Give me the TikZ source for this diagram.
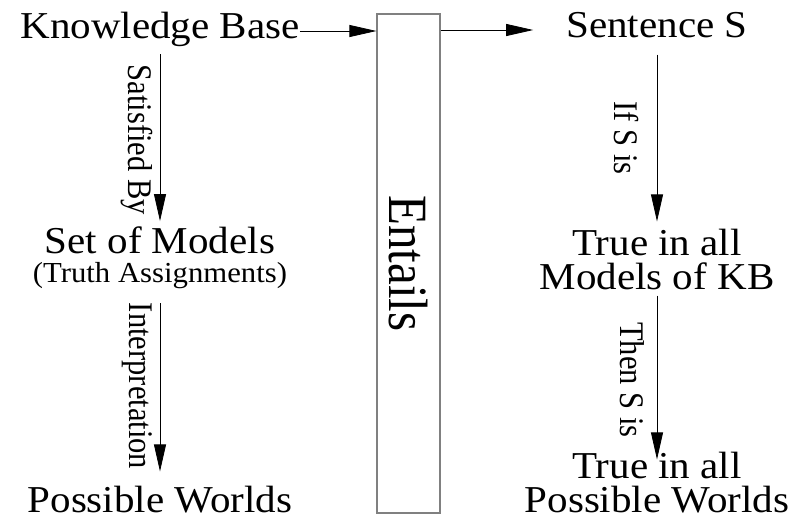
\documentclass[tikz,border=0pt]{standalone}
\usepackage{fontspec}
\setmainfont{Liberation Serif}
\newfontfamily\widefont[FakeStretch=1.08]{Liberation Serif}
\newfontfamily\smallwidefont[FakeStretch=1.06]{Liberation Serif}
\newfontfamily\narrowfont[FakeStretch=0.885]{Liberation Serif}
\usetikzlibrary{arrows.meta}
\begin{document}
\begin{tikzpicture}[x=1pt,y=-1pt,
  big/.style={inner sep=0pt,anchor=base,font=\widefont\fontsize{38}{38}\selectfont},
  small/.style={inner sep=0pt,anchor=base,font=\smallwidefont\fontsize{29}{29}\selectfont},
  lbl/.style={inner sep=0pt,rotate=-90,font=\narrowfont\fontsize{34.5}{34.5}\selectfont},
  arr/.style={draw=black,line width=0.8pt,-{Triangle[length=27pt,width=12pt]}},
  entbox/.style={draw=gray,line width=1.2pt,rotate=-90,inner sep=0pt,
    minimum width=499pt,minimum height=63pt,font=\narrowfont\fontsize{55.4}{55.4}\selectfont}]
\useasboundingbox (0,0) rectangle (797,520);
% left column
\node[big] (kb) at (160,38) {Knowledge Base};
\node[big] (som) at (160,253) {Set of Models};
\node[small] (ta) at (160,282) {(Truth Assignments)};
\node[big] (pw) at (160,512) {Possible Worlds};
% box
\node[entbox] (box) at (408.5,263.5) {Entails};
% right column
\node[big] (ss) at (657,37) {Sentence S};
\node[big] (tia) at (657,255) {True in all};
\node[big] (mkb) at (657,289) {Models of KB};
\node[big] (tib) at (657,478) {True in all};
\node[big] (pwr) at (657,512) {Possible Worlds};
% horizontal arrows
\coordinate (a1) at (kb.east |- 0,31);
\draw[arr] (a1) -- (a1 -| box.south);
\coordinate (a3) at ([xshift=-33pt]ss.west |- 0,30);
\draw[arr] (a3 -| box.north) -- (a3);
% vertical arrows
\draw[arr] ([yshift=-8pt]kb.south) -- ([yshift=5pt]som.north);
\draw[arr] ([yshift=-15pt]ta.south) -- ([yshift=14pt]pw.north);
\draw[arr] ([yshift=-17pt]ss.south) -- ([yshift=7pt]tia.north);
\draw[arr] ([yshift=-6pt]mkb.south) -- ([yshift=-8pt]tib.north);
% labels
\node[lbl] (l1) at (137,140) {Satisfied By};
\node[lbl] (l2) at (137,386) {Interpretation};
\node[lbl] (l3) at (626,138) {If S is};
\node[lbl] (l4) at (632,380) {Then S is};
\end{tikzpicture}
\end{document}
